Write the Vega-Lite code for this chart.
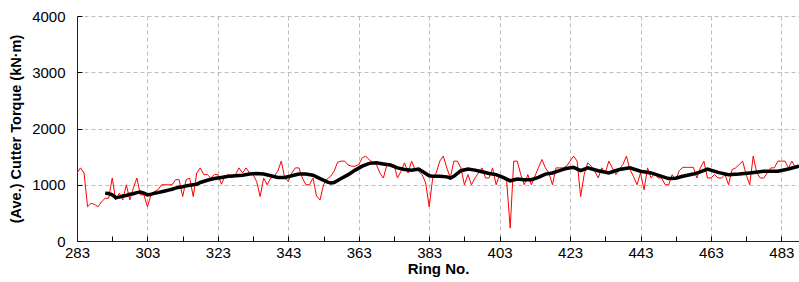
{
  "$schema": "https://vega.github.io/schema/vega-lite/v6.json",
  "width": 722,
  "height": 225,
  "autosize": {"type": "none"},
  "padding": {"left": 77, "top": 16, "right": 0, "bottom": 41},
  "background": "white",
  "config": {
    "view": {"stroke": null},
    "font": "Liberation Sans"
  },
  "datasets": {
    "raw": [
      {"ring":283,"torque":1210},{"ring":284,"torque":1300},{"ring":285,"torque":1210},{"ring":286,"torque":610},{"ring":287,"torque":670},{"ring":288,"torque":650},{"ring":289,"torque":610},{"ring":290,"torque":700},{"ring":291,"torque":760},{"ring":292,"torque":760},
      {"ring":293,"torque":1120},{"ring":294,"torque":730},{"ring":295,"torque":850},{"ring":296,"torque":730},{"ring":297,"torque":1000},{"ring":298,"torque":730},{"ring":299,"torque":940},{"ring":300,"torque":1120},{"ring":301,"torque":820},{"ring":302,"torque":820},
      {"ring":303,"torque":610},{"ring":304,"torque":820},{"ring":305,"torque":880},{"ring":306,"torque":910},{"ring":307,"torque":1000},{"ring":308,"torque":1000},{"ring":309,"torque":1000},{"ring":310,"torque":1000},{"ring":311,"torque":1090},{"ring":312,"torque":1090},
      {"ring":313,"torque":790},{"ring":314,"torque":1090},{"ring":315,"torque":1120},{"ring":316,"torque":790},{"ring":317,"torque":1210},{"ring":318,"torque":1300},{"ring":319,"torque":1180},{"ring":320,"torque":1180},{"ring":321,"torque":1120},{"ring":322,"torque":1180},
      {"ring":323,"torque":1180},{"ring":324,"torque":1010},{"ring":325,"torque":1150},{"ring":326,"torque":1180},{"ring":327,"torque":1120},{"ring":328,"torque":1180},{"ring":329,"torque":1300},{"ring":330,"torque":1210},{"ring":331,"torque":1300},{"ring":332,"torque":1210},
      {"ring":333,"torque":1180},{"ring":334,"torque":1060},{"ring":335,"torque":790},{"ring":336,"torque":1120},{"ring":337,"torque":1000},{"ring":338,"torque":1120},{"ring":339,"torque":1150},{"ring":340,"torque":1240},{"ring":341,"torque":1420},{"ring":342,"torque":1120},
      {"ring":343,"torque":1060},{"ring":344,"torque":1210},{"ring":345,"torque":1300},{"ring":346,"torque":1300},{"ring":347,"torque":1120},{"ring":348,"torque":1000},{"ring":349,"torque":1000},{"ring":350,"torque":1120},{"ring":351,"torque":800},{"ring":352,"torque":730},
      {"ring":353,"torque":1000},{"ring":354,"torque":1100},{"ring":355,"torque":1150},{"ring":356,"torque":1240},{"ring":357,"torque":1400},{"ring":358,"torque":1420},{"ring":359,"torque":1420},{"ring":360,"torque":1350},{"ring":361,"torque":1330},{"ring":362,"torque":1330},
      {"ring":363,"torque":1360},{"ring":364,"torque":1480},{"ring":365,"torque":1510},{"ring":366,"torque":1440},{"ring":367,"torque":1400},{"ring":368,"torque":1360},{"ring":369,"torque":1210},{"ring":370,"torque":1120},{"ring":371,"torque":1360},{"ring":372,"torque":1360},
      {"ring":373,"torque":1360},{"ring":374,"torque":1120},{"ring":375,"torque":1240},{"ring":376,"torque":1390},{"ring":377,"torque":1210},{"ring":378,"torque":1420},{"ring":379,"torque":1270},{"ring":380,"torque":1240},{"ring":381,"torque":1180},{"ring":382,"torque":1030},
      {"ring":383,"torque":610},{"ring":384,"torque":1120},{"ring":385,"torque":1210},{"ring":386,"torque":1420},{"ring":387,"torque":1510},{"ring":388,"torque":1300},{"ring":389,"torque":1120},{"ring":390,"torque":1420},{"ring":391,"torque":1420},{"ring":392,"torque":1300},
      {"ring":393,"torque":1000},{"ring":394,"torque":1180},{"ring":395,"torque":1000},{"ring":396,"torque":1120},{"ring":397,"torque":1210},{"ring":398,"torque":1300},{"ring":399,"torque":1120},{"ring":400,"torque":1120},{"ring":401,"torque":1300},{"ring":402,"torque":1000},
      {"ring":403,"torque":1180},{"ring":404,"torque":1120},{"ring":405,"torque":1060},{"ring":406,"torque":230},{"ring":407,"torque":1420},{"ring":408,"torque":1420},{"ring":409,"torque":1180},{"ring":410,"torque":1000},{"ring":411,"torque":1180},{"ring":412,"torque":1000},
      {"ring":413,"torque":1150},{"ring":414,"torque":1300},{"ring":415,"torque":1450},{"ring":416,"torque":1300},{"ring":417,"torque":1210},{"ring":418,"torque":1000},{"ring":419,"torque":1300},{"ring":420,"torque":1300},{"ring":421,"torque":1300},{"ring":422,"torque":1330},
      {"ring":423,"torque":1420},{"ring":424,"torque":1510},{"ring":425,"torque":1420},{"ring":426,"torque":790},{"ring":427,"torque":1180},{"ring":428,"torque":1390},{"ring":429,"torque":1330},{"ring":430,"torque":1240},{"ring":431,"torque":1120},{"ring":432,"torque":1300},
      {"ring":433,"torque":1210},{"ring":434,"torque":1420},{"ring":435,"torque":1300},{"ring":436,"torque":1180},{"ring":437,"torque":1270},{"ring":438,"torque":1360},{"ring":439,"torque":1510},{"ring":440,"torque":1270},{"ring":441,"torque":1150},{"ring":442,"torque":1000},
      {"ring":443,"torque":1210},{"ring":444,"torque":910},{"ring":445,"torque":1300},{"ring":446,"torque":1120},{"ring":447,"torque":1210},{"ring":448,"torque":1120},{"ring":449,"torque":1120},{"ring":450,"torque":1000},{"ring":451,"torque":1000},{"ring":452,"torque":1180},
      {"ring":453,"torque":1090},{"ring":454,"torque":1250},{"ring":455,"torque":1310},{"ring":456,"torque":1310},{"ring":457,"torque":1310},{"ring":458,"torque":1310},{"ring":459,"torque":1120},{"ring":460,"torque":1300},{"ring":461,"torque":1420},{"ring":462,"torque":1120},
      {"ring":463,"torque":1120},{"ring":464,"torque":1180},{"ring":465,"torque":1120},{"ring":466,"torque":1120},{"ring":467,"torque":1180},{"ring":468,"torque":1000},{"ring":469,"torque":1270},{"ring":470,"torque":1300},{"ring":471,"torque":1360},{"ring":472,"torque":1420},
      {"ring":473,"torque":1180},{"ring":474,"torque":1000},{"ring":475,"torque":1510},{"ring":476,"torque":1210},{"ring":477,"torque":1120},{"ring":478,"torque":1120},{"ring":479,"torque":1210},{"ring":480,"torque":1300},{"ring":481,"torque":1300},{"ring":482,"torque":1420},
      {"ring":483,"torque":1420},{"ring":484,"torque":1420},{"ring":485,"torque":1300},{"ring":486,"torque":1420},{"ring":487,"torque":1300},{"ring":488,"torque":1350}
    ],
    "avg": [
      {"ring":291,"torque":850},{"ring":292,"torque":845},{"ring":293,"torque":820},{"ring":294,"torque":770},{"ring":295,"torque":780},{"ring":296,"torque":800},{"ring":297,"torque":810},{"ring":298,"torque":830},{"ring":299,"torque":840},{"ring":300,"torque":860},
      {"ring":301,"torque":870},{"ring":302,"torque":850},{"ring":303,"torque":820},{"ring":304,"torque":830},{"ring":305,"torque":850},{"ring":306,"torque":860},{"ring":307,"torque":875},{"ring":308,"torque":890},{"ring":309,"torque":905},{"ring":310,"torque":920},
      {"ring":311,"torque":940},{"ring":312,"torque":955},{"ring":313,"torque":965},{"ring":314,"torque":980},{"ring":315,"torque":990},{"ring":316,"torque":1000},{"ring":317,"torque":1010},{"ring":318,"torque":1040},{"ring":320,"torque":1080},{"ring":322,"torque":1110},
      {"ring":324,"torque":1130},{"ring":326,"torque":1150},{"ring":328,"torque":1160},{"ring":330,"torque":1170},{"ring":332,"torque":1190},{"ring":334,"torque":1200},{"ring":336,"torque":1190},{"ring":338,"torque":1160},{"ring":340,"torque":1130},{"ring":342,"torque":1130},
      {"ring":344,"torque":1160},{"ring":346,"torque":1190},{"ring":348,"torque":1190},{"ring":350,"torque":1170},{"ring":352,"torque":1110},{"ring":354,"torque":1050},{"ring":355,"torque":1030},{"ring":356,"torque":1040},{"ring":358,"torque":1110},{"ring":360,"torque":1180},
      {"ring":362,"torque":1260},{"ring":364,"torque":1330},{"ring":366,"torque":1380},{"ring":368,"torque":1390},{"ring":370,"torque":1370},{"ring":372,"torque":1350},{"ring":374,"torque":1300},{"ring":376,"torque":1270},{"ring":378,"torque":1260},{"ring":380,"torque":1280},
      {"ring":381,"torque":1240},{"ring":383,"torque":1160},{"ring":384,"torque":1150},{"ring":386,"torque":1150},{"ring":388,"torque":1140},{"ring":389,"torque":1120},{"ring":390,"torque":1150},{"ring":392,"torque":1250},{"ring":394,"torque":1280},{"ring":396,"torque":1260},
      {"ring":398,"torque":1230},{"ring":400,"torque":1200},{"ring":402,"torque":1180},{"ring":404,"torque":1130},{"ring":406,"torque":1070},{"ring":408,"torque":1100},{"ring":410,"torque":1090},{"ring":412,"torque":1090},{"ring":414,"torque":1130},{"ring":416,"torque":1190},
      {"ring":418,"torque":1210},{"ring":420,"torque":1250},{"ring":422,"torque":1290},{"ring":424,"torque":1310},{"ring":426,"torque":1250},{"ring":428,"torque":1300},{"ring":431,"torque":1250},{"ring":434,"torque":1210},{"ring":437,"torque":1270},{"ring":440,"torque":1300},
      {"ring":443,"torque":1240},{"ring":446,"torque":1210},{"ring":449,"torque":1150},{"ring":451,"torque":1110},{"ring":453,"torque":1115},{"ring":455,"torque":1150},{"ring":458,"torque":1190},{"ring":460,"torque":1230},{"ring":462,"torque":1280},{"ring":465,"torque":1220},
      {"ring":468,"torque":1180},{"ring":471,"torque":1190},{"ring":474,"torque":1210},{"ring":478,"torque":1240},{"ring":482,"torque":1240},{"ring":485,"torque":1280},{"ring":488,"torque":1330}
    ]
  },
  "encoding": {
    "x": {
      "field": "ring",
      "type": "quantitative",
      "scale": {"domain": [283, 488], "nice": false, "zero": false},
      "axis": {
        "title": "Ring No.",
        "titleFont": "Liberation Sans",
        "titleFontSize": 15,
        "titleFontWeight": "bold",
        "titleColor": "black",
        "titlePadding": 1,
        "values": [283,293,303,313,323,333,343,353,363,373,383,393,403,413,423,433,443,453,463,473,483],
        "labelExpr": "(datum.value - 283) % 20 === 0 ? datum.label : ''",
        "format": "d",
        "labelFont": "Liberation Sans",
        "labelFontSize": 15,
        "labelColor": "black",
        "labelPadding": 9,
        "labelFlush": false,
        "labelOverlap": false,
        "tickSize": -5,
        "tickColor": "black",
        "domainColor": "#222222",
        "grid": true,
        "gridColor": "#bdbdbd",
        "gridDash": [4, 3],
        "gridOpacity": {"condition": {"test": "(datum.value - 283) % 20 === 0 && datum.value > 283", "value": 1}, "value": 0}
      }
    },
    "y": {
      "field": "torque",
      "type": "quantitative",
      "scale": {"domain": [0, 4000], "nice": false},
      "axis": {
        "title": "(Ave.) Cutter Torque (kN·m)",
        "titleFont": "Liberation Sans",
        "titleFontSize": 14.5,
        "titleFontWeight": "bold",
        "titleColor": "black",
        "titlePadding": 8,
        "values": [0, 1000, 2000, 3000, 4000],
        "format": "d",
        "labelFont": "Liberation Sans",
        "labelFontSize": 15,
        "labelColor": "black",
        "labelPadding": 17,
        "tickSize": -5,
        "tickColor": "black",
        "domainColor": "#222222",
        "grid": true,
        "gridColor": "#bdbdbd",
        "gridDash": [4, 3]
      }
    }
  },
  "layer": [
    {
      "data": {"name": "raw"},
      "mark": {"type": "line", "color": "#ff0000", "strokeWidth": 1, "clip": true}
    },
    {
      "data": {"name": "avg"},
      "mark": {"type": "line", "color": "black", "strokeWidth": 3.5, "clip": true}
    }
  ]
}
